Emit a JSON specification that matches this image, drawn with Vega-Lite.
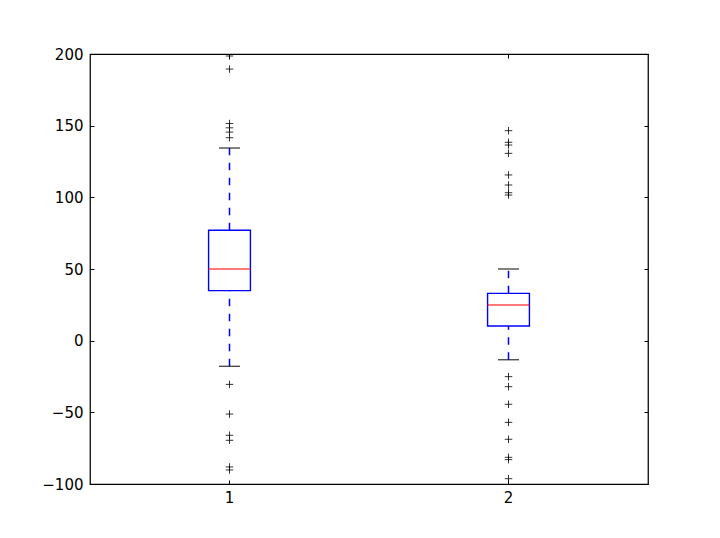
{
  "$schema": "https://vega.github.io/schema/vega-lite/v6.json",
  "autosize": {"type": "none"},
  "width": 558,
  "height": 430,
  "padding": {"left": 90, "top": 54, "right": 72, "bottom": 54},
  "background": "white",
  "config": {
    "view": {"stroke": "black", "strokeWidth": 1.25},
    "axis": {"labelFont": "DejaVu Sans", "labelFontSize": 15, "labelColor": "black", "tickColor": "black", "domain": false, "grid": false, "title": null, "tickWidth": 1}
  },
  "datasets": {
    "summary": [
      {"group": "1", "lower": -17.9, "q1": 34.9, "median": 50.0, "q3": 77.0, "upper": 134.4},
      {"group": "2", "lower": -13.3, "q1": 10.2, "median": 24.9, "q3": 33.0, "upper": 50.0}
    ],
    "outliers": [
      {"group": "1", "value": 198.6},
      {"group": "1", "value": 189.5},
      {"group": "1", "value": 151.5},
      {"group": "1", "value": 148.5},
      {"group": "1", "value": 145.5},
      {"group": "1", "value": 141.6},
      {"group": "1", "value": -30.5},
      {"group": "1", "value": -51.2},
      {"group": "1", "value": -66.0},
      {"group": "1", "value": -69.5},
      {"group": "1", "value": -88.1},
      {"group": "1", "value": -90.2},
      {"group": "1", "value": -102.0},
      {"group": "2", "value": 201.5},
      {"group": "2", "value": 146.5},
      {"group": "2", "value": 138.4},
      {"group": "2", "value": 136.5},
      {"group": "2", "value": 130.7},
      {"group": "2", "value": 115.6},
      {"group": "2", "value": 108.6},
      {"group": "2", "value": 103.2},
      {"group": "2", "value": 101.6},
      {"group": "2", "value": -25.1},
      {"group": "2", "value": -32.1},
      {"group": "2", "value": -44.4},
      {"group": "2", "value": -57.0},
      {"group": "2", "value": -68.8},
      {"group": "2", "value": -81.4},
      {"group": "2", "value": -83.0},
      {"group": "2", "value": -96.3}
    ]
  },
  "layer": [
    {
      "encoding": {
        "x": {"field": "group", "type": "nominal", "scale": {"paddingInner": 0, "paddingOuter": 0}, "axis": {"orient": "bottom", "labelAngle": 0, "tickSize": -4, "labelPadding": 10}}
      },
      "layer": [
        {
          "data": {"name": "summary"},
          "mark": {"type": "rule", "color": "#0000ff", "strokeWidth": 1.5, "strokeDash": [7.5, 7.5]},
          "encoding": {
            "y": {"field": "lower", "type": "quantitative", "scale": {"domain": [-100, 200], "nice": false, "zero": false}, "axis": {"orient": "left", "values": [-100, -50, 0, 50, 100, 150, 200], "tickSize": -4, "labelPadding": 11}},
            "y2": {"field": "q1"}
          }
        },
        {
          "data": {"name": "summary"},
          "mark": {"type": "rule", "color": "#0000ff", "strokeWidth": 1.5, "strokeDash": [7.5, 7.5]},
          "encoding": {
            "y": {"field": "q3", "type": "quantitative"},
            "y2": {"field": "upper"}
          }
        },
        {
          "data": {"name": "summary"},
          "mark": {"type": "bar", "fill": "white", "stroke": "#0000ff", "strokeWidth": 1.4, "width": {"band": 0.15}},
          "encoding": {
            "y": {"field": "q1", "type": "quantitative"},
            "y2": {"field": "q3"}
          }
        },
        {
          "data": {"name": "summary"},
          "mark": {"type": "tick", "color": "#ff0000", "size": 42, "thickness": 1.4, "orient": "horizontal"},
          "encoding": {"y": {"field": "median", "type": "quantitative"}}
        },
        {
          "data": {"name": "summary"},
          "mark": {"type": "tick", "color": "black", "size": 21, "thickness": 1.4, "orient": "horizontal"},
          "encoding": {"y": {"field": "lower", "type": "quantitative"}}
        },
        {
          "data": {"name": "summary"},
          "mark": {"type": "tick", "color": "black", "size": 21, "thickness": 1.4, "orient": "horizontal"},
          "encoding": {"y": {"field": "upper", "type": "quantitative"}}
        },
        {
          "data": {"name": "outliers"},
          "mark": {"type": "point", "shape": "M-1,0L1,0M0,-1L0,1", "filled": false, "stroke": "black", "strokeWidth": 0.8, "size": 56, "opacity": 1, "clip": true},
          "encoding": {"y": {"field": "value", "type": "quantitative"}}
        }
      ]
    },
    {
      "data": {"name": "summary"},
      "mark": {"type": "tick", "opacity": 0},
      "encoding": {
        "x": {"field": "group", "type": "nominal", "scale": {"paddingInner": 0, "paddingOuter": 0}, "axis": {"orient": "top", "labels": false, "tickSize": -4}},
        "y": {"field": "median", "type": "quantitative", "axis": {"orient": "right", "labels": false, "values": [-100, -50, 0, 50, 100, 150, 200], "tickSize": -4}}
      }
    }
  ],
  "resolve": {"axis": {"x": "independent", "y": "independent"}}
}
